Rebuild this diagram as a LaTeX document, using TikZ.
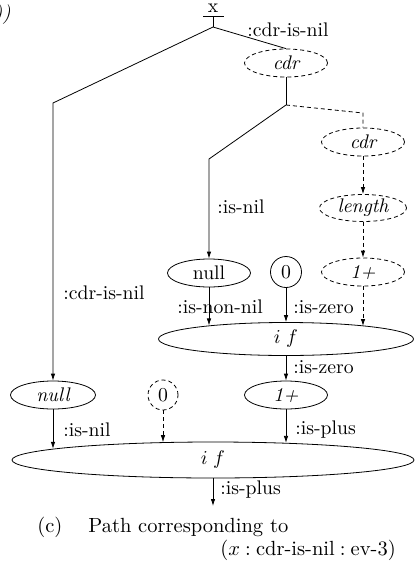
\documentclass[tikz,border=0pt]{standalone}
\usetikzlibrary{shapes.geometric,arrows.meta}
% text set at 10pt and enlarged, keeping the wide 10pt letter shapes
\newcommand{\tx}[1]{\scalebox{1.97}{\fontsize{10}{12}\selectfont #1}}
\newcommand{\ctx}[1]{\scalebox{2.05}{\fontsize{10}{12}\selectfont #1}}
\newcommand{\csp}{\hspace{0.25em}}
\begin{document}
\begin{tikzpicture}[x=1pt,y=-1pt,
  line width=0.8pt,
  lab/.style={inner sep=0pt, anchor=west},
  op/.style={ellipse, draw, inner sep=0pt, minimum width=83pt, minimum height=28pt},
  cst/.style={circle, draw, inner sep=0pt, minimum size=31pt},
  ghost/.style={dash pattern=on 4pt off 3pt},
  arr/.style={-{Latex[length=7pt,width=4.5pt]}},
  captext/.style={inner sep=0pt, anchor=base west}]
\useasboundingbox (0,0) rectangle (419,566);

% tail of the preceding text
\node[anchor=east, inner sep=0pt] (prev) at (11,15) {\tx{\itshape ))}};

% input x
\node[inner sep=0pt] (xin) at (213,8.5) {\tx{x}};
\coordinate (barl) at (203,16);
\coordinate (barr) at (224,16);
\coordinate (bar) at (213,16);
\coordinate (j0) at (213,27);
\draw (barl) -- (barr);
\draw (bar) -- (j0);

% operation nodes
\node[op, ghost] (cdra) at (286,63) {\tx{\itshape cdr}};
\node[op, ghost] (cdrb) at (363,142) {\tx{\itshape cdr}};
\node[op, ghost, minimum width=87pt, minimum height=27pt] (len) at (363,208) {\tx{\itshape length}};
\node[op, ghost] (inca) at (363,272) {\tx{\itshape 1+}};
\node[cst] (zeroa) at (286,272) {\tx{0}};
\node[op] (nulla) at (209,273) {\tx{null}};
\node[op, minimum width=255pt, minimum height=33pt] (ifa) at (286,339) {\tx{$i\;f$}};
\node[op] (incb) at (286,395) {\tx{\itshape 1+}};
\node[op, minimum width=85pt] (nullb) at (53,395) {\tx{\itshape null}};
\node[cst, ghost, minimum size=30pt] (zerob) at (163,395) {\tx{0}};
\node[op, minimum width=402pt, minimum height=36pt] (ifb) at (213,460) {\tx{$i\;f$}};

% branching points
\coordinate (j1) at (286,105);
\coordinate (kl) at (53,103);
\coordinate (km) at (209,159);
\coordinate (kr) at (363,113);
\coordinate (out) at (213,506);

% connectors
\draw (j0) -- (cdra.north);
\draw[arr] (j0) -- (kl) -- (nullb.north);
\draw (cdra.south) -- (j1);
\draw[arr] (j1) -- (km) -- (nulla.north);
\draw[ghost] (j1) -- (kr) -- (cdrb.north);
\draw[ghost, arr] (cdrb.south) -- (len.north);
\draw[ghost, arr] (len.south) -- (inca.north);

\draw[arr] (nulla.south) -- (nulla.south |- ifa.170);
\draw[arr] (zeroa.south) -- (zeroa.south |- ifa.north);
\draw[ghost, arr] (inca.south) -- (inca.south |- ifa.9.5);
\draw[arr] (ifa.south) -- (incb.north);

\draw[arr] (nullb.south) -- (nullb.south |- ifb.176);
\draw[ghost, arr] (zerob.south) -- (zerob.south |- ifb.161);
\draw[arr] (incb.south) -- (incb.south |- ifb.13);
\draw[arr] (ifb.south) -- (out);

% edge labels
\node[lab] (l1) at (247,30) {\tx{:cdr-is-nil}};
\node[lab] (l2) at (217,207) {\tx{:is-nil}};
\node[lab] (l3) at (63,293) {\tx{:cdr-is-nil}};
\node[lab] (l4) at (177,307) {\tx{:is-non-nil}};
\node[lab] (l5) at (293,307) {\tx{:is-zero}};
\node[lab] (l6) at (293,367) {\tx{:is-zero}};
\node[lab] (l7) at (63,430) {\tx{:is-nil}};
\node[lab] (l8) at (295,430) {\tx{:is-plus}};
\node[lab] (l9) at (220,490) {\tx{:is-plus}};

% caption
\node[captext] (c1) at (37,532) {\ctx{(c)}};
\node[captext] (c2) at (88,532) {\ctx{Path corresponding to}};
\node[captext] (c3) at (220,555) {\ctx{($x$\csp:\csp cdr-is-nil\csp:\csp ev-3)}};
\end{tikzpicture}
\end{document}
